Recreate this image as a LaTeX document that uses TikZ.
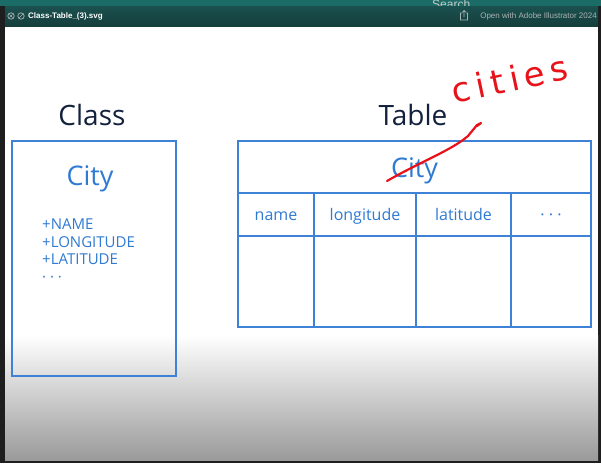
\documentclass[tikz,border=0pt]{standalone}
\usepackage{fontspec}
\setmainfont{Open Sans}
\newfontfamily\uifont{Liberation Sans}
\newfontfamily\handfont{DejaVu Sans}
\usetikzlibrary{positioning,calc}
\definecolor{topteal}{HTML}{1B6B67}
\definecolor{barteal}{HTML}{1A4C4A}
\definecolor{framedark}{HTML}{1E1E1E}
\definecolor{inkblue}{HTML}{2F7AD3}
\definecolor{lineblue}{HTML}{3D82D6}
\definecolor{navy}{HTML}{13213D}
\definecolor{markred}{HTML}{E8121A}
\definecolor{fadegray}{HTML}{9A9A9A}
\definecolor{uigray}{HTML}{A9B3B2}
\tikzset{
  umlbox/.style={
    draw=lineblue,
    line width=1.6pt,
    minimum width=164pt,
    minimum height=235pt,
    inner sep=0pt
  },
  cellbox/.style={
    draw=lineblue,
    line width=1.6pt,
    inner sep=0pt,
    minimum height=43pt,
    text=inkblue,
    font=\fontsize{16}{19}\selectfont,
    text height=13pt,
    text depth=2pt
  },
  bodycell/.style={
    draw=lineblue,
    line width=1.6pt,
    inner sep=0pt,
    minimum height=91pt
  },
  heading/.style={text=navy,font=\fontsize{28}{32}\selectfont,anchor=base,inner sep=0pt},
  entity/.style={text=inkblue,font=\fontsize{27}{31}\selectfont,inner sep=0pt},
  uitext/.style={font=\uifont\fontsize{8}{9}\selectfont,inner sep=0pt},
  redmark/.style={draw=markred,line width=2.2pt,line cap=round,line join=round}
}
\begin{document}
\begin{tikzpicture}[x=1pt,y=-1pt]
\useasboundingbox (0,0) rectangle (601,463);
% window chrome
\fill[framedark] (0,0) rectangle (601,463);
\fill[topteal] (0,0) rectangle (601,6);
\begin{scope}
  \clip (0,0) rectangle (601,6);
  \node[uitext,text=uigray!70!white,font=\uifont\fontsize{12}{14}\selectfont,anchor=base west] (search) at (432,9) {Search};
\end{scope}
\shade[top color=barteal!85!topteal,bottom color=barteal!80!black] (5,6) rectangle (598,27);
\node[uitext,text=white,font=\uifont\bfseries\fontsize{8}{9}\selectfont,anchor=west] (filename) at (28,16) {Class-Table\_(3).svg};
\node[uitext,text=uigray,anchor=east] (openwith) at (597,16) {Open with Adobe Illustrator 2024};
\draw[uigray,line width=0.7pt] (11,16) circle (3.2pt) (9.5,14.5) -- (12.5,17.5) (12.5,14.5) -- (9.5,17.5);
\draw[uigray,line width=0.7pt] (21,16) circle (3.2pt) (19,18) -- (23,14);
\draw[uigray,line width=0.7pt] (462,13) -- (460.5,13) -- (460.5,20) -- (467.5,20) -- (467.5,13) -- (466,13)
  (464,17) -- (464,10.5) (462.3,12.2) -- (464,10.5) -- (465.7,12.2);
% page
\fill[white] (5,27) rectangle (598,460);
\shade[top color=white,bottom color=fadegray] (5,335) rectangle (598,460);

% class side
\node[heading] (classhead) at (92,125) {Class};
\node[umlbox] (classbox) at (94,258.5) {};
\node[entity,anchor=base] (classname) at (90,185) {City};
\node[text=inkblue,font=\fontsize{15}{17.5}\selectfont,align=left,anchor=north west,inner sep=0pt] (attrs) at (42,219)
  {+NAME\\+LONGITUDE\\+LATITUDE\\· · ·};

% table side
\node[heading] (tablehead) at (413,125) {Table};
\node[cellbox,entity,minimum width=353pt,minimum height=52pt,text height=21pt,text depth=1pt] (tabname) at (414.5,167) {City};
\node[cellbox,minimum width=76pt] (colname) at (276,214.5) {name};
\node[cellbox,minimum width=102pt] (collong) at (365,214.5) {longitude};
\node[cellbox,minimum width=95pt] (collat) at (463.5,214.5) {latitude};
\node[cellbox,minimum width=80pt] (colmore) at (551,214.5) {· · ·};
\node[bodycell,minimum width=76pt] (rowname) at (276,281.5) {};
\node[bodycell,minimum width=102pt] (rowlong) at (365,281.5) {};
\node[bodycell,minimum width=95pt] (rowlat) at (463.5,281.5) {};
\node[bodycell,minimum width=80pt] (rowmore) at (551,281.5) {};

% handwritten rename
\draw[redmark] (387,181) .. controls (420,162) and (452,150) .. (468,136) -- (477,125) -- (481,123) -- (477,126);
\node[text=markred,font=\handfont\fontsize{34}{38}\selectfont,rotate=12,inner sep=0pt] (newname) at (510,79) {c\,i\,t\,i\,e\,s};
\end{tikzpicture}
\end{document}
